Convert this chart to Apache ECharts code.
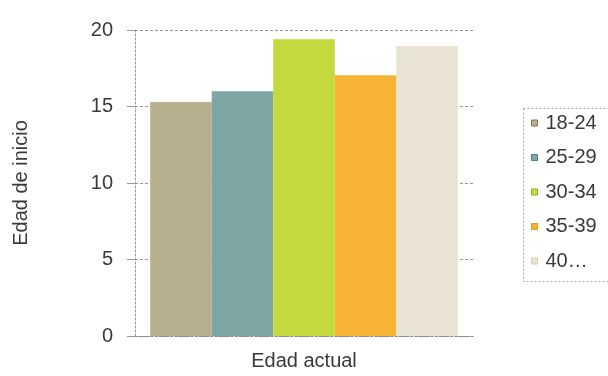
<!DOCTYPE html>
<html>
<head>
<meta charset="utf-8">
<script src="https://cdn.jsdelivr.net/npm/echarts@6/dist/echarts.min.js"></script>
<style>html,body{margin:0;padding:0;background:#fff}#c{width:608px;height:376px}</style>
</head>
<body>
<div id="c"></div>
<script>
const categories = [''];
const seriesNames = ['18-24', '25-29', '30-34', '35-39', '40…'];
const seriesValues = [15.3, 16.0, 19.4, 17.05, 18.95];
const seriesColors = ['#b7ae8e', '#7ea7a3', '#c4d93e', '#f6b334', '#e8e3d3'];
const legendBorderColors = ['#7d7650', '#4d8584', '#93ab1e', '#e39a1c', '#d4ceb8'];
const yTicks = [0, 5, 10, 15, 20];

const chart = echarts.init(document.getElementById('c'));
const font = 'Liberation Sans, Arial, sans-serif';
chart.setOption({
  animation: false,
  textStyle: { fontFamily: font },
  grid: { left: 135, right: 135, top: 30, bottom: 33 },
  graphic: [{
    type: 'rect',
    left: 521,
    top: 106,
    shape: { width: 140, height: 173 },
    style: { fill: 'none', stroke: '#aaa', lineWidth: 1, lineDash: [2, 2] },
    silent: true
  }],
  legend: {
    orient: 'vertical',
    left: 521,
    top: 106,
    padding: [7, 10, 7, 10],
    itemWidth: 6,
    itemHeight: 6,
    itemGap: 14.5,
    icon: 'rect',
    textStyle: { fontSize: 20, color: '#3a3a3a', fontFamily: font, padding: [0, 0, 0, 3] },
    data: seriesNames.map((n, i) => ({
      name: n,
      itemStyle: { color: seriesColors[i], borderColor: legendBorderColors[i], borderWidth: 1 }
    }))
  },
  xAxis: {
    type: 'category',
    data: categories,
    name: 'Edad actual',
    nameLocation: 'middle',
    nameGap: 15,
    nameTextStyle: { fontSize: 20, color: '#3a3a3a' },
    axisLine: { lineStyle: { color: '#888', type: [2, 2] } },
    axisTick: { show: false },
    axisLabel: { show: false }
  },
  yAxis: {
    type: 'value',
    min: yTicks[0],
    max: yTicks[yTicks.length - 1],
    interval: 5,
    name: 'Edad de inicio',
    nameLocation: 'middle',
    nameGap: 104,
    nameTextStyle: { fontSize: 20, color: '#3a3a3a' },
    axisLine: { show: true, lineStyle: { color: '#999', type: [2, 2] } },
    axisTick: { show: true, length: 8, lineStyle: { color: '#999' } },
    axisLabel: { fontSize: 20, color: '#3a3a3a', margin: 22 },
    splitLine: { lineStyle: { color: '#999', type: [3, 2] } }
  },
  series: seriesNames.map((n, i) => ({
    name: n,
    type: 'bar',
    data: [seriesValues[i]],
    barGap: '0%',
    barCategoryGap: '9%',
    itemStyle: { color: seriesColors[i] }
  }))
});
</script>
</body>
</html>
